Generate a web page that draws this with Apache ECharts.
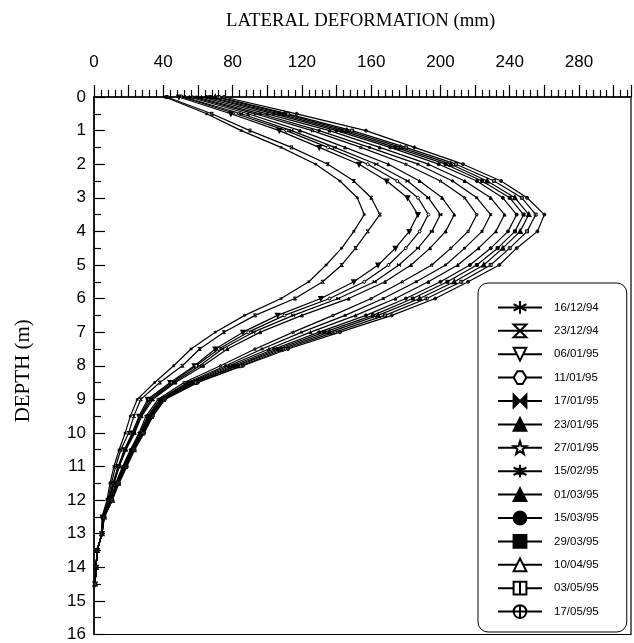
<!DOCTYPE html>
<html>
<head>
<meta charset="utf-8">
<script src="https://cdn.jsdelivr.net/npm/echarts@6/dist/echarts.min.js"></script>
<style>
  html, body { margin: 0; padding: 0; background: #fff; }
  #chart { width: 634px; height: 643px; }
</style>
</head>
<body>
<div id="chart"></div>
<script>
// Inclinometer readings: lateral deformation (mm) against depth (m)
const depths = [0, 0.5, 1, 1.5, 2, 2.5, 3, 3.5, 4, 4.5, 5, 5.5, 6, 6.5, 7, 7.5,
  8, 8.5, 9, 9.5, 10, 10.5, 11, 11.5, 12, 12.5, 13, 13.5, 14, 14.5];

const dates = ['16/12/94', '23/12/94', '06/01/95', '11/01/95', '17/01/95', '23/01/95',
  '27/01/95', '15/02/95', '01/03/95', '15/03/95', '29/03/95', '10/04/95', '03/05/95', '17/05/95'];

const read_161294 = [41, 65, 85, 108, 128, 142, 152, 156, 150, 143, 134, 124, 108, 87, 70, 56, 46, 35, 25, 21, 18, 14.5, 11.5, 9.2, 7.5, 4.6, 4.5, 1.8, 1.2, 0.6];
const read_231294 = [42, 68, 90, 114, 135, 150, 160, 165, 158, 151, 143, 132, 116, 93, 75, 61, 51, 38, 27, 23, 20, 15.5, 12.5, 10, 8, 5, 4.6, 1.8, 1.2, 0.6];
const read_060195 = [49, 79, 107, 130, 153, 169, 181, 187, 182, 174, 164, 150, 131, 106, 86, 70, 58, 44, 31, 26, 22, 17.5, 14, 11, 8.5, 5, 4.6, 1.8, 1.2, 0.6];
const read_110195 = [51, 82, 111, 135, 158, 175, 187, 193, 188, 180, 170, 156, 136, 110, 89, 72, 59, 45, 32, 26.5, 22.5, 18, 14, 11, 8.5, 5, 4.6, 1.8, 1.2, 0.6];
const read_170195 = [52, 85, 114, 139, 163, 181, 193, 200, 195, 187, 176, 162, 141, 115, 92, 74, 61, 46, 33, 27, 23, 18, 14.5, 11.5, 9, 5.2, 4.6, 1.8, 1.2, 0.6];
const read_230195 = [55, 89, 119, 145, 170, 188, 201, 208, 203, 194, 183, 168, 147, 120, 96, 77, 63, 47, 34, 27.5, 23.5, 18.5, 14.5, 11.5, 9, 5.2, 4.6, 1.8, 1.2, 0.6];
const read_270195 = [57, 93, 126, 154, 180, 200, 214, 221, 216, 206, 195, 178, 160, 138, 115, 93, 73, 52, 37, 30, 26, 21, 16.5, 12.5, 9.5, 5.5, 4.6, 1.8, 1.2, 0.6];
const read_150295 = [59, 96, 130, 159, 187, 207, 221, 229, 224, 214, 203, 186, 167, 145, 120, 97, 76, 54, 38, 31, 26.5, 21.5, 17, 13, 9.5, 5.5, 4.6, 1.8, 1.2, 0.6];
const read_010395 = [62, 100, 136, 165, 193, 214, 229, 237, 232, 222, 210, 193, 174, 151, 125, 101, 78, 55, 38.5, 31.5, 27, 22, 17, 13, 10, 5.5, 4.6, 1.8, 1.2, 0.6];
const read_150395 = [65, 104, 140, 171, 199, 221, 236, 244, 239, 229, 217, 200, 180, 157, 130, 104, 80, 56, 39, 32, 27.5, 22, 17.5, 13.5, 10, 5.8, 4.6, 1.8, 1.2, 0.6];
const read_290395 = [67, 107, 143, 174, 203, 224, 240, 248, 243, 233, 221, 204, 184, 161, 133, 106, 82, 57, 39.5, 32.5, 28, 22.5, 18, 13.5, 10, 5.8, 4.6, 1.8, 1.2, 0.6];
const read_100495 = [70, 110, 146, 177, 206, 227, 243, 251, 246, 236, 225, 208, 188, 164, 136, 108, 83, 58, 40, 33, 28, 23, 18, 14, 10.5, 5.8, 4.6, 1.8, 1.2, 0.6];
const read_030595 = [72, 112, 149, 180, 209, 231, 247, 255, 250, 240, 229, 212, 192, 168, 139, 110, 85, 59, 40.5, 33.5, 28.5, 23, 18.5, 14, 10.5, 6, 4.6, 1.8, 1.2, 0.6];
const read_170595 = [75, 117, 157, 185, 213, 235, 250, 260, 256, 244, 234, 216, 197, 172, 142, 112, 86, 60, 41, 34, 29, 23.5, 19, 14.5, 10.5, 6, 4.6, 1.8, 1.2, 0.6];

const readings = [read_161294, read_231294, read_060195, read_110195, read_170195, read_230195,
  read_270195, read_150295, read_010395, read_150395, read_290395, read_100495, read_030595, read_170595];

const xTicks = [0, 40, 80, 120, 160, 200, 240, 280];

// Marker glyphs, one per survey date
const markers = [
  { symbol: 'path://M5,0L5,10M0.7,2.5L9.3,7.5M9.3,2.5L0.7,7.5', fill: '#fff' },
  { symbol: 'path://M0,0L10,0L0,10L10,10ZM0,0L10,10', fill: '#fff' },
  { symbol: 'emptyTriangle', fill: '#000', rotate: 180 },
  { symbol: 'path://M3,0L7,0L10,5L7,10L3,10L0,5Z', fill: '#fff' },
  { symbol: 'path://M0,1L10,9L10,1L0,9Z', fill: '#000' },
  { symbol: 'path://M5,0L10,10L0,10ZM5,4L7,8L3,8Z', fill: '#000' },
  { symbol: 'path://M5,0L6.2,3.8L10,3.8L7,6.2L8.1,10L5,7.7L1.9,10L3,6.2L0,3.8L3.8,3.8Z', fill: '#fff' },
  { symbol: 'path://M5,0L5,10M2,2L8,8M8,2L2,8M2.5,3L7.5,3M2.5,7L7.5,7', fill: '#fff' },
  { symbol: 'triangle', fill: '#000' },
  { symbol: 'circle', fill: '#000' },
  { symbol: 'rect', fill: '#000' },
  { symbol: 'emptyTriangle', fill: '#000' },
  { symbol: 'path://M0,0L10,0L10,10L0,10ZM5,0L5,10', fill: '#fff' },
  { symbol: 'path://M0,5A5,5,0,1,1,10,5A5,5,0,1,1,0,5ZM5,0L5,10M0,5L10,5', fill: '#fff' }
];

const series = dates.map((name, i) => ({
  name: name,
  type: 'line',
  data: depths.map((d, k) => [readings[i][k], d]),
  symbol: markers[i].symbol,
  symbolRotate: markers[i].rotate || 0,
  symbolSize: 3,
  lineStyle: { color: '#000', width: 1.2 },
  itemStyle: { color: markers[i].fill, borderColor: '#000', borderWidth: 1 },
  emphasis: { disabled: true },
  z: 2
}));

const chart = echarts.init(document.getElementById('chart'), null, { renderer: 'canvas' });
chart.setOption({
  animation: false,
  backgroundColor: '#fff',
  title: {
    text: 'LATERAL DEFORMATION (mm)',
    left: 221,
    top: 7,
    textStyle: { fontFamily: 'Liberation Serif', fontWeight: 'normal', fontSize: 18.8, color: '#000' }
  },
  grid: {
    left: 94, top: 97, right: 0, bottom: 7,
    show: true, borderColor: '#000', borderWidth: 1.2, backgroundColor: 'transparent'
  },
  legend: {
    data: dates,
    orient: 'vertical',
    left: 478,
    top: 283,
    itemWidth: 44,
    itemHeight: 16,
    itemGap: 8.6,
    padding: [17, 28, 13, 19],
    borderColor: '#000',
    borderWidth: 1,
    borderRadius: 10,
    backgroundColor: '#fff',
    selectedMode: false,
    textStyle: { fontFamily: 'Liberation Sans', fontSize: 11.5, color: '#000', padding: [0, 0, 0, 7] }
  },
  xAxis: {
    type: 'value',
    position: 'top',
    min: 0,
    max: 310,
    interval: 20,
    axisLine: { show: true, lineStyle: { color: '#000', width: 1.5 } },
    axisTick: { show: true, inside: false, length: 12, lineStyle: { color: '#000', width: 1.2 } },
    minorTick: { show: true, splitNumber: 5, length: 7, lineStyle: { color: '#000', width: 1.2 } },
    splitLine: { show: false },
    axisLabel: {
      margin: 26,
      color: '#000',
      fontFamily: 'Liberation Sans',
      fontSize: 17,
      formatter: v => (xTicks.indexOf(v) >= 0 ? String(v) : '')
    }
  },
  yAxis: {
    type: 'value',
    inverse: true,
    min: 0,
    max: 16,
    interval: 1,
    name: 'DEPTH (m)',
    nameLocation: 'middle',
    nameRotate: 90,
    nameGap: 60,
    nameTextStyle: { fontFamily: 'Liberation Serif', fontSize: 21, color: '#000', padding: [0, 10, 0, 0] },
    axisLine: { show: true, lineStyle: { color: '#000', width: 1.5 } },
    axisTick: { show: true, inside: true, length: 11, lineStyle: { color: '#000', width: 1.2 } },
    minorTick: { show: true, splitNumber: 2, length: 7, lineStyle: { color: '#000', width: 1.2 } },
    splitLine: { show: false },
    axisLabel: { margin: 8, color: '#000', fontFamily: 'Liberation Sans', fontSize: 17 }
  },
  series: series
});
</script>
</body>
</html>
